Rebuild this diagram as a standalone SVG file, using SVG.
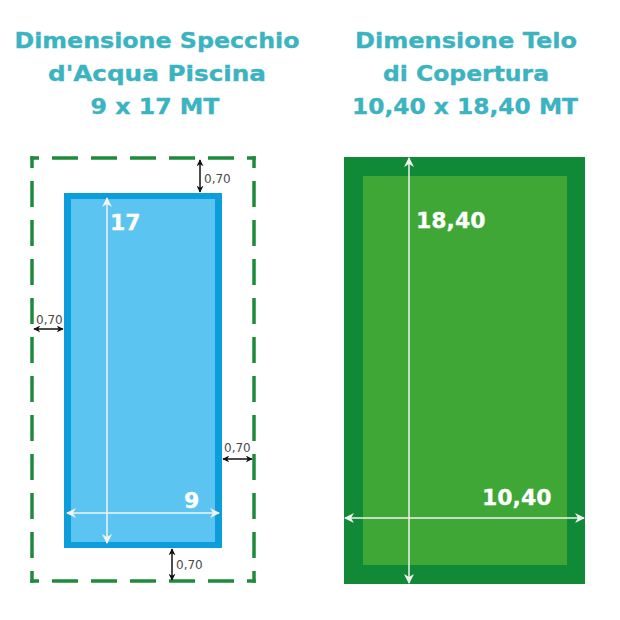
<svg xmlns="http://www.w3.org/2000/svg" width="620" height="620" viewBox="0 0 620 620">
<defs>
<style>
.title{font-family:"DejaVu Sans","Liberation Sans",sans-serif;font-weight:bold;font-size:22px;fill:#3bb3c1;stroke:#3bb3c1;stroke-width:0.35;text-anchor:middle}
.dim{font-family:"DejaVu Sans","Liberation Sans",sans-serif;font-weight:bold;font-size:22px;fill:#ffffff;stroke:#ffffff;stroke-width:0.3}
.small{font-family:"DejaVu Sans","Liberation Sans",sans-serif;font-size:12px;fill:#4a4a4a}
.wl{stroke:#f2f2f2;stroke-width:1.5;fill:none}
.bl{stroke:#111111;stroke-width:1.5;fill:none}
.dash{stroke:#1e8a3c;stroke-width:3.5;fill:none;stroke-dasharray:26 13}
</style>
<marker id="wa" viewBox="0 0 10 10" refX="9" refY="5" markerWidth="10" markerHeight="10" markerUnits="userSpaceOnUse" orient="auto-start-reverse">
<path d="M0,0 L10,5 L0,10 L3,5 Z" fill="#f2f2f2"/>
</marker>
<marker id="ba" viewBox="0 0 10 10" refX="9" refY="5" markerWidth="7" markerHeight="7" markerUnits="userSpaceOnUse" orient="auto-start-reverse">
<path d="M0,0 L10,5 L0,10 L3,5 Z" fill="#111111"/>
</marker>
</defs>
<rect width="620" height="620" fill="#ffffff"/>
<g id="title-left">
<text class="title" x="157" y="48" textLength="285" lengthAdjust="spacingAndGlyphs">Dimensione Specchio</text>
<text class="title" x="157" y="81" textLength="218" lengthAdjust="spacingAndGlyphs">d'Acqua Piscina</text>
<text class="title" x="155" y="114" textLength="129" lengthAdjust="spacingAndGlyphs">9 x 17 MT</text>
</g>
<g id="title-right">
<text class="title" x="466" y="48" textLength="222" lengthAdjust="spacingAndGlyphs">Dimensione Telo</text>
<text class="title" x="466" y="81" textLength="166" lengthAdjust="spacingAndGlyphs">di Copertura</text>
<text class="title" x="465" y="114" textLength="226" lengthAdjust="spacingAndGlyphs">10,40 x 18,40 MT</text>
</g>
<g id="boundary">
<line class="dash" x1="30.25" y1="158" x2="255.75" y2="158" stroke-dashoffset="17.25"/>
<line class="dash" x1="30.25" y1="581" x2="255.75" y2="581" stroke-dashoffset="17.25"/>
<line class="dash" x1="32" y1="156.25" x2="32" y2="582.75" stroke-dashoffset="14.25"/>
<line class="dash" x1="254" y1="156.25" x2="254" y2="582.75" stroke-dashoffset="14.25"/>
</g>
<g id="pool">
<rect x="64" y="193" width="158" height="355" fill="#0c9ddb"/>
<rect x="71" y="199" width="144" height="343" fill="#5cc4f1"/>
</g>
<g id="cover">
<rect x="344" y="157" width="241" height="427" fill="#108a36"/>
<rect x="363" y="176" width="204" height="389" fill="#3ea735"/>
</g>
<g id="connectors">
<line class="wl" x1="107" y1="198" x2="107" y2="543" marker-start="url(#wa)" marker-end="url(#wa)"/>
<line class="wl" x1="67" y1="513" x2="219" y2="513" marker-start="url(#wa)" marker-end="url(#wa)"/>
<line class="wl" x1="409" y1="158" x2="409" y2="583" marker-start="url(#wa)" marker-end="url(#wa)"/>
<line class="wl" x1="345" y1="518" x2="584" y2="518" marker-start="url(#wa)" marker-end="url(#wa)"/>
<line class="bl" x1="200" y1="160" x2="200" y2="192" marker-start="url(#ba)" marker-end="url(#ba)"/>
<line class="bl" x1="34" y1="329" x2="63" y2="329" marker-start="url(#ba)" marker-end="url(#ba)"/>
<line class="bl" x1="223" y1="459" x2="252" y2="459" marker-start="url(#ba)" marker-end="url(#ba)"/>
<line class="bl" x1="172" y1="549" x2="172" y2="580" marker-start="url(#ba)" marker-end="url(#ba)"/>
</g>
<g id="labels">
<text class="dim" x="110" y="230">17</text>
<text class="dim" x="184" y="508">9</text>
<text class="dim" x="416" y="228">18,40</text>
<text class="dim" x="482" y="505">10,40</text>
<text class="small" x="204" y="183">0,70</text>
<text class="small" x="36" y="324">0,70</text>
<text class="small" x="224" y="452">0,70</text>
<text class="small" x="176" y="569">0,70</text>
</g>
</svg>
